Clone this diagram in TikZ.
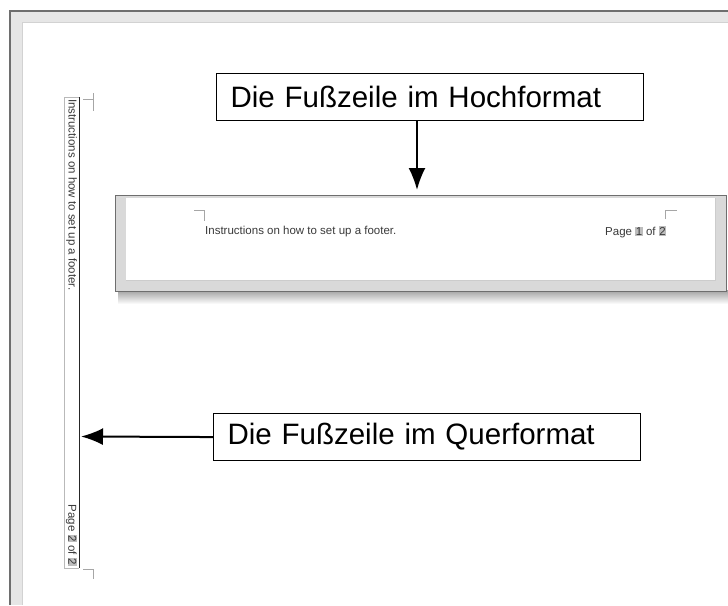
\documentclass[tikz,border=0pt]{standalone}
\usepackage{fontspec}
\setmainfont{Liberation Sans}
\usetikzlibrary{arrows.meta}
\definecolor{framedark}{HTML}{6E6E6E}
\definecolor{frameband}{HTML}{E6E6E6}
\definecolor{boxgray}{HTML}{D9D9D9}
\definecolor{smalltext}{HTML}{3A3A3A}
\definecolor{fieldgray}{HTML}{BDBDBD}
\newcommand{\fieldbox}[1]{{\setlength{\fboxsep}{0.6pt}\colorbox{fieldgray}{#1}}}
\tikzset{
  calloutbox/.style={draw=black, line width=1.1pt, fill=white, minimum width=427pt,
    minimum height=47pt, inner xsep=14pt, text width=399pt, align=left,
    font=\fontsize{29.5}{32}\selectfont, anchor=north west},
  callarrow/.style={line width=2pt, -{Latex[length=22pt,width=17pt]}},
  footertext/.style={font=\fontsize{11.5}{12}\selectfont, text=smalltext, inner sep=0pt},
  cropmark/.style={draw=gray!70, line width=1pt}
}
\begin{document}
\begin{tikzpicture}[x=1pt,y=-1pt]
\useasboundingbox (0,0) rectangle (728,605);
\fill[white] (0,0) rectangle (728,605);
% outer page frame
\fill[frameband] (10,11) rectangle (728,22);
\fill[frameband] (10,11) rectangle (22,605);
\draw[framedark, line width=1.2pt] (10,605) -- (10,11) -- (728,11);
\draw[gray!35, line width=0.8pt] (22,605) -- (22,22) -- (728,22);

% portrait footer box (with shadow)
\shade[top color=gray!75, bottom color=white] (118,290) rectangle (728,304);
\node[anchor=north west, minimum width=611pt, minimum height=96pt, inner sep=0pt,
      fill=boxgray, draw=framedark, line width=1.2pt] (footer) at (115,195) {};
\fill[white] (126,198) rectangle (715,280);
\draw[gray!40, line width=0.6pt] (126,280) -- (715,280) -- (715,198);
\draw[cropmark] (194,210) -- (204,210) -- (204,221);
\draw[cropmark] (665,219) -- (665,210) -- (677,210);
\node[footertext, anchor=west] (ftxt) at (205,232) {Instructions on how to set up a footer.};
\node[footertext, anchor=west] (fpage) at (605,232) {Page \fieldbox{1} of \fieldbox{2}};

% landscape page strip
\node[anchor=north west, minimum width=15pt, minimum height=471pt, inner sep=0pt,
      fill=white] (strip) at (64,97) {};
\draw[gray!55, line width=0.9pt] (strip.north west) -- (strip.south west);
\draw[gray!55, line width=0.9pt] (strip.north west) -- (strip.north east);
\draw[gray!55, line width=0.9pt] (strip.south west) -- (strip.south east);
\draw[black!85, line width=1.4pt] (strip.north east) -- (strip.south east);
\node[footertext, rotate=-90, anchor=west] (vtxt) at (71.5,99) {Instructions on how to set up a footer.};
\node[footertext, rotate=-90, anchor=east] (vpage) at (71.5,566) {Page \fieldbox{2} of \fieldbox{2}};
\draw[cropmark] (83,99) -- (93,99);
\draw[cropmark] (93,93) -- (93,111);
\draw[cropmark] (83,569) -- (93,569) -- (93,579);

% callouts
\node[calloutbox] (hoch) at (216,73) {Die Fußzeile im Hochformat};
\node[calloutbox] (quer) at (213,413) {Die Fußzeile im Querformat};
\coordinate (hochtip) at (417,190);
\coordinate (quertip) at (81,436.5);
\draw[callarrow] (hoch.south -| hochtip) -- (hochtip);
\draw[callarrow] (quer.west) -- (quertip);
\end{tikzpicture}
\end{document}
